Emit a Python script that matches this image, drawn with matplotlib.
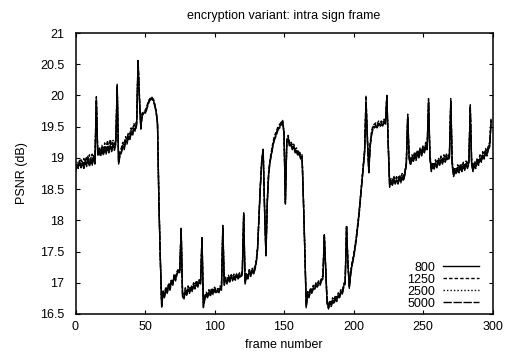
import numpy as np
import matplotlib.pyplot as plt

plt.rcParams['font.family'] = ['Liberation Sans', 'DejaVu Sans']

# PSNR per frame (frames 0..299), one row per 15-frame GOP
psnr_800 = [
    18.80, 18.90, 18.85, 18.95, 18.86, 18.93, 18.85, 18.96, 18.88, 19.00, 18.88, 18.98, 18.90, 19.02, 18.92,
    19.93, 19.05, 19.12, 19.04, 19.14, 19.06, 19.16, 19.08, 19.18, 19.10, 19.20, 19.12, 19.22, 19.14, 19.25,
    20.15, 18.92, 19.05, 19.10, 19.20, 19.15, 19.28, 19.25, 19.35, 19.30, 19.42, 19.38, 19.48, 19.45, 19.55,
    20.55, 19.95, 19.48, 19.70, 19.72, 19.72, 19.78, 19.85, 19.92, 19.95, 19.96, 19.93, 19.85, 19.75, 19.55,
    18.30, 17.40, 16.63, 16.85, 16.78, 16.90, 16.85, 16.95, 16.90, 17.02, 16.98, 17.10, 17.05, 17.15, 17.20,
    17.18, 17.86, 16.80, 16.75, 16.88, 16.82, 16.90, 16.85, 16.92, 16.88, 16.97, 16.92, 17.00, 16.95, 17.02,
    17.00, 17.72, 16.62, 16.75, 16.82, 16.78, 16.85, 16.80, 16.88, 16.83, 16.90, 16.86, 16.88, 16.85, 16.92,
    16.90, 17.90, 16.98, 17.05, 17.00, 17.08, 17.03, 17.10, 17.05, 17.10, 17.06, 17.12, 17.08, 17.12, 17.10,
    17.15, 18.10, 17.00, 17.12, 17.08, 17.18, 17.12, 17.20, 17.15, 17.22, 17.32, 17.55, 18.05, 18.55, 18.95,
    19.12, 18.20, 17.45, 18.30, 18.76, 18.95, 19.08, 19.20, 19.30, 19.35, 19.42, 19.48, 19.50, 19.55, 19.59,
    19.40, 18.28, 19.25, 19.32, 19.20, 19.22, 19.15, 19.18, 19.10, 19.12, 19.05, 19.08, 19.00, 19.02, 18.30,
    17.50, 16.62, 16.82, 16.78, 16.88, 16.85, 16.92, 16.90, 16.97, 16.95, 17.00, 16.98, 17.05, 17.08, 17.76,
    17.20, 16.68, 16.60, 16.68, 16.64, 16.72, 16.68, 16.76, 16.72, 16.80, 16.78, 16.86, 16.84, 16.95, 17.00,
    17.90, 17.30, 16.93, 17.15, 17.30, 17.40, 17.55, 17.70, 17.90, 18.10, 18.35, 18.60, 18.85, 19.10, 19.90,
    19.30, 18.78, 19.20, 19.38, 19.48, 19.50, 19.52, 19.50, 19.55, 19.52, 19.55, 19.53, 19.58, 19.55, 19.99,
    19.20, 18.55, 18.62, 18.58, 18.66, 18.60, 18.65, 18.60, 18.68, 18.62, 18.70, 18.65, 18.75, 18.90, 19.66,
    19.00, 18.90, 19.00, 18.95, 19.05, 18.98, 19.08, 19.02, 19.12, 19.05, 19.15, 19.10, 19.20, 19.15, 19.90,
    19.00, 18.80, 18.88, 18.84, 18.92, 18.86, 18.95, 18.90, 18.98, 18.92, 19.00, 18.95, 19.02, 18.98, 19.02,
    19.90, 18.90, 18.72, 18.80, 18.76, 18.84, 18.78, 18.86, 18.80, 18.88, 18.82, 18.90, 18.85, 18.92, 19.81,
    18.90, 18.80, 18.90, 18.85, 18.95, 18.90, 19.00, 18.95, 19.05, 19.00, 19.10, 19.05, 19.15, 19.20, 19.60,
]

psnr_1250 = [
    18.84, 18.88, 18.92, 18.90, 18.97, 18.89, 18.99, 18.90, 19.03, 18.93, 19.05, 18.92, 19.06, 18.95, 19.00,
    19.98, 19.08, 19.15, 19.10, 19.20, 19.12, 19.24, 19.15, 19.28, 19.16, 19.30, 19.20, 19.26, 19.22, 19.30,
    20.18, 18.95, 19.10, 19.16, 19.25, 19.22, 19.34, 19.30, 19.40, 19.38, 19.48, 19.44, 19.55, 19.50, 19.60,
    20.58, 20.00, 19.50, 19.72, 19.74, 19.76, 19.80, 19.88, 19.93, 19.96, 19.97, 19.94, 19.86, 19.76, 19.56,
    18.32, 17.42, 16.66, 16.88, 16.82, 16.94, 16.88, 17.00, 16.95, 17.06, 17.02, 17.14, 17.10, 17.18, 17.22,
    17.20, 17.88, 16.84, 16.79, 16.92, 16.86, 16.95, 16.88, 16.96, 16.92, 17.00, 16.96, 17.04, 16.98, 17.05,
    17.03, 17.74, 16.66, 16.79, 16.85, 16.82, 16.89, 16.84, 16.92, 16.87, 16.93, 16.90, 16.92, 16.89, 16.95,
    16.93, 17.92, 17.02, 17.09, 17.04, 17.12, 17.07, 17.13, 17.09, 17.14, 17.10, 17.15, 17.12, 17.16, 17.13,
    17.18, 18.12, 17.04, 17.16, 17.11, 17.21, 17.16, 17.24, 17.19, 17.26, 17.35, 17.58, 18.08, 18.58, 18.98,
    19.16, 18.24, 17.48, 18.34, 18.80, 18.98, 19.12, 19.24, 19.34, 19.40, 19.46, 19.52, 19.54, 19.58, 19.60,
    19.42, 18.32, 19.30, 19.36, 19.25, 19.27, 19.19, 19.22, 19.14, 19.16, 19.09, 19.12, 19.04, 19.06, 18.33,
    17.53, 16.66, 16.86, 16.82, 16.92, 16.88, 16.96, 16.93, 17.00, 16.98, 17.04, 17.01, 17.08, 17.11, 17.78,
    17.23, 16.71, 16.63, 16.72, 16.68, 16.76, 16.72, 16.80, 16.76, 16.84, 16.81, 16.90, 16.88, 16.98, 17.03,
    17.92, 17.33, 16.97, 17.19, 17.34, 17.44, 17.59, 17.74, 17.94, 18.14, 18.39, 18.64, 18.89, 19.14, 20.00,
    19.34, 18.82, 19.24, 19.42, 19.52, 19.54, 19.56, 19.54, 19.59, 19.56, 19.59, 19.57, 19.62, 19.58, 20.02,
    19.24, 18.60, 18.67, 18.63, 18.71, 18.65, 18.70, 18.65, 18.73, 18.67, 18.75, 18.70, 18.80, 18.94, 19.70,
    19.04, 18.95, 19.05, 19.00, 19.10, 19.03, 19.13, 19.07, 19.17, 19.10, 19.20, 19.15, 19.25, 19.20, 19.95,
    19.05, 18.85, 18.93, 18.89, 18.97, 18.91, 19.00, 18.95, 19.03, 18.97, 19.05, 19.00, 19.07, 19.03, 19.06,
    19.95, 18.95, 18.77, 18.85, 18.81, 18.89, 18.83, 18.91, 18.85, 18.93, 18.87, 18.95, 18.90, 18.97, 19.85,
    18.95, 18.85, 18.95, 18.90, 19.00, 18.95, 19.05, 19.00, 19.10, 19.05, 19.15, 19.10, 19.20, 19.25, 19.64,
]

psnr_2500 = [
    18.82, 18.93, 18.88, 18.98, 18.90, 18.96, 18.89, 19.00, 18.92, 19.04, 18.91, 19.02, 18.94, 19.06, 18.96,
    19.96, 19.07, 19.16, 19.08, 19.18, 19.10, 19.20, 19.12, 19.22, 19.14, 19.25, 19.17, 19.28, 19.19, 19.30,
    20.17, 18.94, 19.08, 19.14, 19.23, 19.19, 19.31, 19.29, 19.39, 19.34, 19.46, 19.42, 19.52, 19.49, 19.58,
    20.56, 19.97, 19.49, 19.71, 19.73, 19.74, 19.79, 19.86, 19.93, 19.96, 19.97, 19.94, 19.86, 19.76, 19.56,
    18.31, 17.41, 16.65, 16.87, 16.80, 16.92, 16.87, 16.97, 16.93, 17.04, 17.00, 17.12, 17.08, 17.17, 17.21,
    17.19, 17.87, 16.82, 16.77, 16.90, 16.84, 16.93, 16.87, 16.94, 16.90, 16.99, 16.94, 17.02, 16.97, 17.04,
    17.02, 17.73, 16.64, 16.77, 16.84, 16.80, 16.87, 16.82, 16.90, 16.85, 16.92, 16.88, 16.90, 16.87, 16.94,
    16.92, 17.91, 17.00, 17.07, 17.02, 17.10, 17.05, 17.12, 17.07, 17.12, 17.08, 17.14, 17.10, 17.14, 17.12,
    17.17, 18.11, 17.02, 17.14, 17.10, 17.20, 17.14, 17.22, 17.17, 17.24, 17.34, 17.57, 18.07, 18.57, 18.97,
    19.14, 18.22, 17.47, 18.32, 18.78, 18.97, 19.10, 19.22, 19.32, 19.38, 19.44, 19.50, 19.52, 19.57, 19.60,
    19.41, 18.30, 19.28, 19.34, 19.23, 19.25, 19.17, 19.20, 19.12, 19.14, 19.07, 19.10, 19.02, 19.04, 18.32,
    17.52, 16.64, 16.84, 16.80, 16.90, 16.87, 16.94, 16.92, 16.99, 16.97, 17.02, 17.00, 17.07, 17.10, 17.77,
    17.22, 16.70, 16.62, 16.70, 16.66, 16.74, 16.70, 16.78, 16.74, 16.82, 16.80, 16.88, 16.86, 16.97, 17.02,
    17.91, 17.32, 16.95, 17.17, 17.32, 17.42, 17.57, 17.72, 17.92, 18.12, 18.37, 18.62, 18.87, 19.12, 19.96,
    19.32, 18.80, 19.22, 19.40, 19.50, 19.52, 19.54, 19.52, 19.57, 19.54, 19.57, 19.55, 19.60, 19.57, 20.00,
    19.22, 18.58, 18.65, 18.61, 18.69, 18.63, 18.68, 18.63, 18.71, 18.65, 18.73, 18.68, 18.78, 18.92, 19.68,
    19.02, 18.93, 19.03, 18.98, 19.08, 19.01, 19.11, 19.05, 19.15, 19.08, 19.18, 19.13, 19.23, 19.18, 19.93,
    19.03, 18.83, 18.91, 18.87, 18.95, 18.89, 18.98, 18.93, 19.01, 18.95, 19.03, 18.98, 19.05, 19.01, 19.04,
    19.93, 18.93, 18.75, 18.83, 18.79, 18.87, 18.81, 18.89, 18.83, 18.91, 18.85, 18.93, 18.88, 18.95, 19.83,
    18.93, 18.83, 18.93, 18.88, 18.98, 18.93, 19.03, 18.98, 19.08, 19.03, 19.13, 19.08, 19.18, 19.23, 19.62,
]

psnr_5000 = [
    18.78, 18.86, 18.83, 18.91, 18.84, 18.90, 18.83, 18.93, 18.86, 18.96, 18.86, 18.95, 18.88, 18.99, 18.90,
    19.90, 19.03, 19.10, 19.02, 19.11, 19.04, 19.13, 19.06, 19.15, 19.08, 19.17, 19.10, 19.19, 19.12, 19.22,
    20.12, 18.90, 19.03, 19.08, 19.17, 19.13, 19.25, 19.22, 19.32, 19.28, 19.39, 19.35, 19.45, 19.43, 19.52,
    20.52, 19.93, 19.46, 19.68, 19.70, 19.70, 19.76, 19.83, 19.90, 19.93, 19.94, 19.91, 19.83, 19.73, 19.53,
    18.28, 17.38, 16.61, 16.83, 16.76, 16.88, 16.83, 16.93, 16.88, 17.00, 16.96, 17.08, 17.03, 17.13, 17.18,
    17.16, 17.84, 16.78, 16.73, 16.86, 16.80, 16.88, 16.83, 16.90, 16.86, 16.95, 16.90, 16.98, 16.93, 17.00,
    16.98, 17.70, 16.60, 16.73, 16.80, 16.76, 16.83, 16.78, 16.86, 16.81, 16.88, 16.84, 16.86, 16.83, 16.90,
    16.88, 17.88, 16.96, 17.03, 16.98, 17.06, 17.01, 17.08, 17.03, 17.08, 17.04, 17.10, 17.06, 17.10, 17.08,
    17.13, 18.08, 16.98, 17.10, 17.06, 17.16, 17.10, 17.18, 17.13, 17.20, 17.30, 17.53, 18.03, 18.53, 18.93,
    19.10, 18.18, 17.43, 18.28, 18.74, 18.93, 19.06, 19.18, 19.28, 19.33, 19.40, 19.46, 19.48, 19.53, 19.57,
    19.38, 18.26, 19.23, 19.30, 19.18, 19.20, 19.13, 19.16, 19.08, 19.10, 19.03, 19.06, 18.98, 19.00, 18.28,
    17.48, 16.60, 16.80, 16.76, 16.86, 16.83, 16.90, 16.88, 16.95, 16.93, 16.98, 16.96, 17.03, 17.06, 17.74,
    17.18, 16.66, 16.58, 16.66, 16.62, 16.70, 16.66, 16.74, 16.70, 16.78, 16.76, 16.84, 16.82, 16.93, 16.98,
    17.88, 17.28, 16.91, 17.13, 17.28, 17.38, 17.53, 17.68, 17.88, 18.08, 18.33, 18.58, 18.83, 19.08, 19.88,
    19.28, 18.76, 19.18, 19.36, 19.46, 19.48, 19.50, 19.48, 19.53, 19.50, 19.53, 19.51, 19.56, 19.53, 19.97,
    19.18, 18.53, 18.60, 18.56, 18.64, 18.58, 18.63, 18.58, 18.66, 18.60, 18.68, 18.63, 18.73, 18.88, 19.64,
    18.98, 18.88, 18.98, 18.93, 19.03, 18.96, 19.06, 19.00, 19.10, 19.03, 19.13, 19.08, 19.18, 19.13, 19.88,
    18.98, 18.78, 18.86, 18.82, 18.90, 18.84, 18.93, 18.88, 18.96, 18.90, 18.98, 18.93, 19.00, 18.96, 19.00,
    19.88, 18.88, 18.70, 18.78, 18.74, 18.82, 18.76, 18.84, 18.78, 18.86, 18.80, 18.88, 18.83, 18.90, 19.79,
    18.88, 18.78, 18.88, 18.83, 18.93, 18.88, 18.98, 18.93, 19.03, 18.98, 19.08, 19.03, 19.13, 19.18, 19.58,
]

frames = np.arange(len(psnr_800))
series = [("800", psnr_800, "-"),
          ("1250", psnr_1250, (0, (2.5, 1.5))),
          ("2500", psnr_2500, (0, (1, 1.5))),
          ("5000", psnr_5000, (0, (6, 1.2)))]

fig = plt.figure(figsize=(5.08, 3.53), dpi=100)
ax = fig.add_axes([75.5 / 508, 1 - 314 / 353, 417 / 508, 281 / 353])

for label, vals, ls in series:
    ax.plot(frames, vals, color="black", lw=1.0, linestyle=ls, label=label)

fs = 9
ax.set_xlim(0, 300)
ax.set_ylim(16.5, 21)
ax.set_xticks(np.arange(0, 301, 50))
ax.set_yticks(np.arange(16.5, 21.01, 0.5))
ax.set_yticklabels(["16.5", "17", "17.5", "18", "18.5", "19", "19.5", "20", "20.5", "21"])
ax.tick_params(direction="in", top=True, right=True, length=3, width=0.8,
               labelsize=fs, pad=5)
ax.tick_params(axis="y", pad=8)
for s in ax.spines.values():
    s.set_linewidth(1.1)

ax.set_title("encryption variant: intra sign frame", fontsize=fs, pad=10)
ax.set_xlabel("frame number", fontsize=fs, labelpad=4)
ax.set_ylabel("PSNR (dB)", fontsize=fs, labelpad=9)

leg = ax.legend(loc="lower right", bbox_to_anchor=(0.968, 0.015), frameon=False,
                markerfirst=False, fontsize=fs, handlelength=2.9,
                handletextpad=0.6, labelspacing=0.0, borderpad=0, borderaxespad=0)

fig.savefig("out.png", dpi=100)
